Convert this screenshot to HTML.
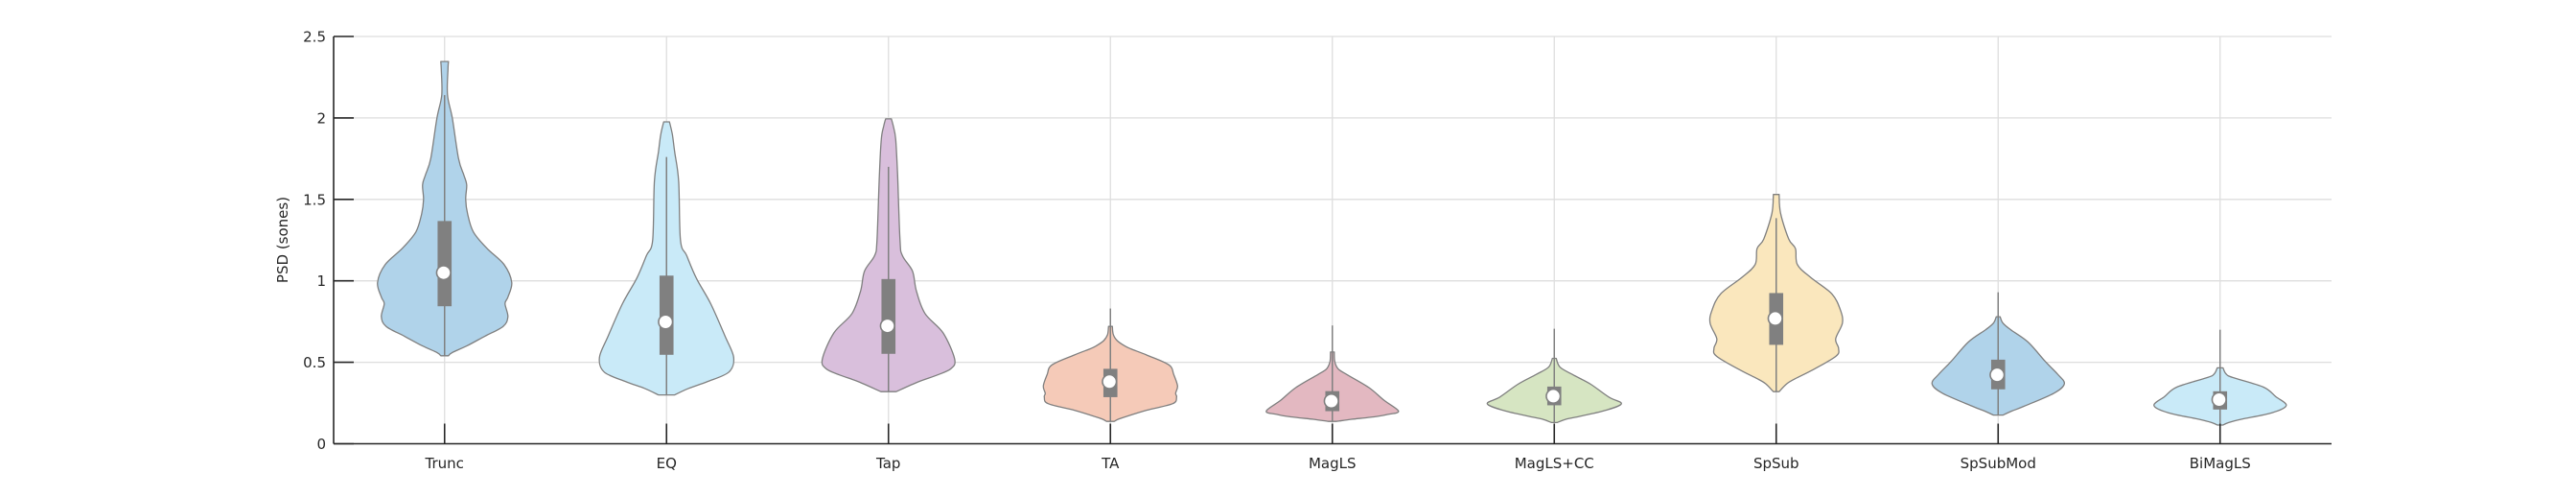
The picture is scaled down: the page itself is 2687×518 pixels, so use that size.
<!DOCTYPE html>
<html><head><meta charset="utf-8">
<style>
html,body{margin:0;padding:0;background:#fff;}
svg{display:block;font-family:"DejaVu Sans","Liberation Sans",sans-serif;}
</style></head>
<body>
<svg id="c" width="2687" height="518" viewBox="0 0 2687 518" xmlns="http://www.w3.org/2000/svg">
<g id="grid" stroke="#dedede" stroke-width="1.3"></g>
<g id="vio"></g>
<g id="axes" stroke="#262626" stroke-width="1.6" fill="none">
<line x1="348" y1="38" x2="348" y2="462.5"/>
<line x1="348" y1="462.5" x2="2432" y2="462.5"/>
</g>
<g id="ticks" stroke="#262626" stroke-width="1.6"></g>
<g id="labels" fill="#262626" font-size="15"></g>
<text x="0" y="0" transform="translate(300,250) rotate(-90)" text-anchor="middle" font-size="15" fill="#262626">PSD (sones)</text>
</svg>
<script>
var NS="http://www.w3.org/2000/svg";
function Y(v){return 462.5-v*169.8;}
function X(i){return 348+(i+0.5)*231.5;}
function el(p,t,a,txt){var e=document.createElementNS(NS,t);for(var k in a)e.setAttribute(k,a[k]);if(txt!==undefined)e.textContent=txt;document.getElementById(p).appendChild(e);return e;}
var names=["Trunc","EQ","Tap","TA","MagLS","MagLS+CC","SpSub","SpSubMod","BiMagLS"];
for(var v=0.5;v<=2.5001;v+=0.5){el("grid","line",{x1:348,x2:2432,y1:Y(v),y2:Y(v)});}
for(var i=0;i<9;i++){el("grid","line",{x1:X(i),x2:X(i),y1:38,y2:462.5});}
["0","0.5","1","1.5","2","2.5"].forEach(function(s,k){var y=Y(k*0.5);
 el("ticks","line",{x1:348,x2:369,y1:y,y2:y});
 el("labels","text",{x:340,y:y+5.5,"text-anchor":"end"},s);});
names.forEach(function(n,i){el("ticks","line",{x1:X(i),x2:X(i),y1:441.5,y2:462.5});
 el("labels","text",{x:X(i),y:488,"text-anchor":"middle"},n);});
var D=[
{c:"#b0d3ea",w:2.14,b:[0.844,1.367],m:1.05,p:[[2.346,4],[2.3,3.5],[2.14,3],[2.0,8],[1.75,14.5],[1.65,20],[1.59,23],[1.5,22],[1.41,24],[1.3,30],[1.2,44],[1.1,62],[0.99,70],[0.9,66],[0.86,63],[0.78,66],[0.72,61],[0.66,42],[0.6,23],[0.56,8],[0.54,4]]},
{c:"#c9eaf8",w:1.76,b:[0.546,1.032],m:0.748,p:[[1.976,3],[1.9,6],[1.79,8.5],[1.61,12.6],[1.25,14.5],[1.155,21],[1.017,31],[0.86,46],[0.66,61],[0.53,70],[0.44,65],[0.38,42],[0.34,23],[0.30,8.5]]},
{c:"#d9bfdc",w:1.70,b:[0.552,1.011],m:0.724,p:[[1.994,3],[1.95,5],[1.87,7.5],[1.65,9.5],[1.25,12],[1.155,14.5],[1.06,25],[0.94,29],[0.8,38],[0.68,57],[0.52,69],[0.46,65],[0.42,50],[0.38,31],[0.32,8]]},
{c:"#f5cab8",w:0.83,b:[0.286,0.46],m:0.381,p:[[0.72,2],[0.67,3],[0.633,7],[0.6,15],[0.583,21],[0.544,38],[0.484,61],[0.425,66],[0.355,70],[0.31,68],[0.286,69],[0.246,65],[0.206,38],[0.17,18],[0.15,8],[0.137,4]]},
{c:"#e3b8c1",w:0.726,b:[0.2,0.323],m:0.262,p:[[0.563,2],[0.504,2.5],[0.46,6],[0.425,15],[0.345,38],[0.266,54],[0.2,69],[0.18,58],[0.167,46],[0.15,20],[0.137,4]]},
{c:"#d6e5c2",w:0.706,b:[0.236,0.351],m:0.292,p:[[0.524,2],[0.47,6],[0.425,19],[0.365,38],[0.286,57],[0.246,70],[0.206,54],[0.17,28],[0.15,12],[0.13,3]]},
{c:"#fae7bd",w:1.385,b:[0.607,0.925],m:0.769,p:[[1.53,3],[1.415,4.5],[1.257,13],[1.198,20],[1.10,22],[1.02,36],[0.92,58],[0.82,67],[0.74,69],[0.644,62],[0.585,65],[0.536,62],[0.447,36],[0.4,20],[0.368,11],[0.32,3]]},
{c:"#b0d3ea",w:0.93,b:[0.334,0.516],m:0.423,p:[[0.78,2],[0.74,5],[0.70,13],[0.625,31],[0.506,49],[0.427,62],[0.368,69],[0.31,58],[0.23,27],[0.2,14],[0.176,5]]},
{c:"#c9eaf8",w:0.70,b:[0.21,0.322],m:0.271,p:[[0.466,3],[0.43,6],[0.407,13],[0.348,45],[0.289,58],[0.235,69],[0.19,54],[0.15,22],[0.13,9],[0.115,3]]}
];
function smooth(pts){var s="M"+pts[0][0].toFixed(1)+","+pts[0][1].toFixed(1);
 for(var k=0;k<pts.length-1;k++){var p0=pts[k-1]||pts[k],p1=pts[k],p2=pts[k+1],p3=pts[k+2]||p2;
  var c1x=p1[0]+(p2[0]-p0[0])/6,c1y=p1[1]+(p2[1]-p0[1])/6,c2x=p2[0]-(p3[0]-p1[0])/6,c2y=p2[1]-(p3[1]-p1[1])/6;
  s+=" C"+c1x.toFixed(1)+","+c1y.toFixed(1)+" "+c2x.toFixed(1)+","+c2y.toFixed(1)+" "+p2[0].toFixed(1)+","+p2[1].toFixed(1);}
 return s;}
D.forEach(function(d,i){var cx=X(i),p=d.p,R=[],L=[];
 p.forEach(function(q){R.push([cx+q[1],Y(q[0])]);});
 for(var k=p.length-1;k>=0;k--){L.push([cx-p[k][1],Y(p[k][0])]);}
 var path=smooth(R)+" L"+L[0][0].toFixed(1)+","+L[0][1].toFixed(1)+" "+smooth(L).slice(1).replace(/^[^C]*/,"")+" Z";
 el("vio","path",{d:path,fill:d.c,stroke:"#7f7f7f","stroke-width":1.3,"stroke-linejoin":"round"});
 var bot=p[p.length-1][0];
 el("vio","line",{x1:cx,x2:cx,y1:Y(d.w),y2:Y(bot),stroke:"#808080","stroke-width":1.5});
 el("vio","rect",{x:cx-7.3,y:Y(d.b[1]),width:14.6,height:Y(d.b[0])-Y(d.b[1]),fill:"#808080"});
 el("vio","circle",{cx:cx-1,cy:Y(d.m),r:7.3,fill:"#fff",stroke:"#808080","stroke-width":1.6});
});
</script>
</body></html>
